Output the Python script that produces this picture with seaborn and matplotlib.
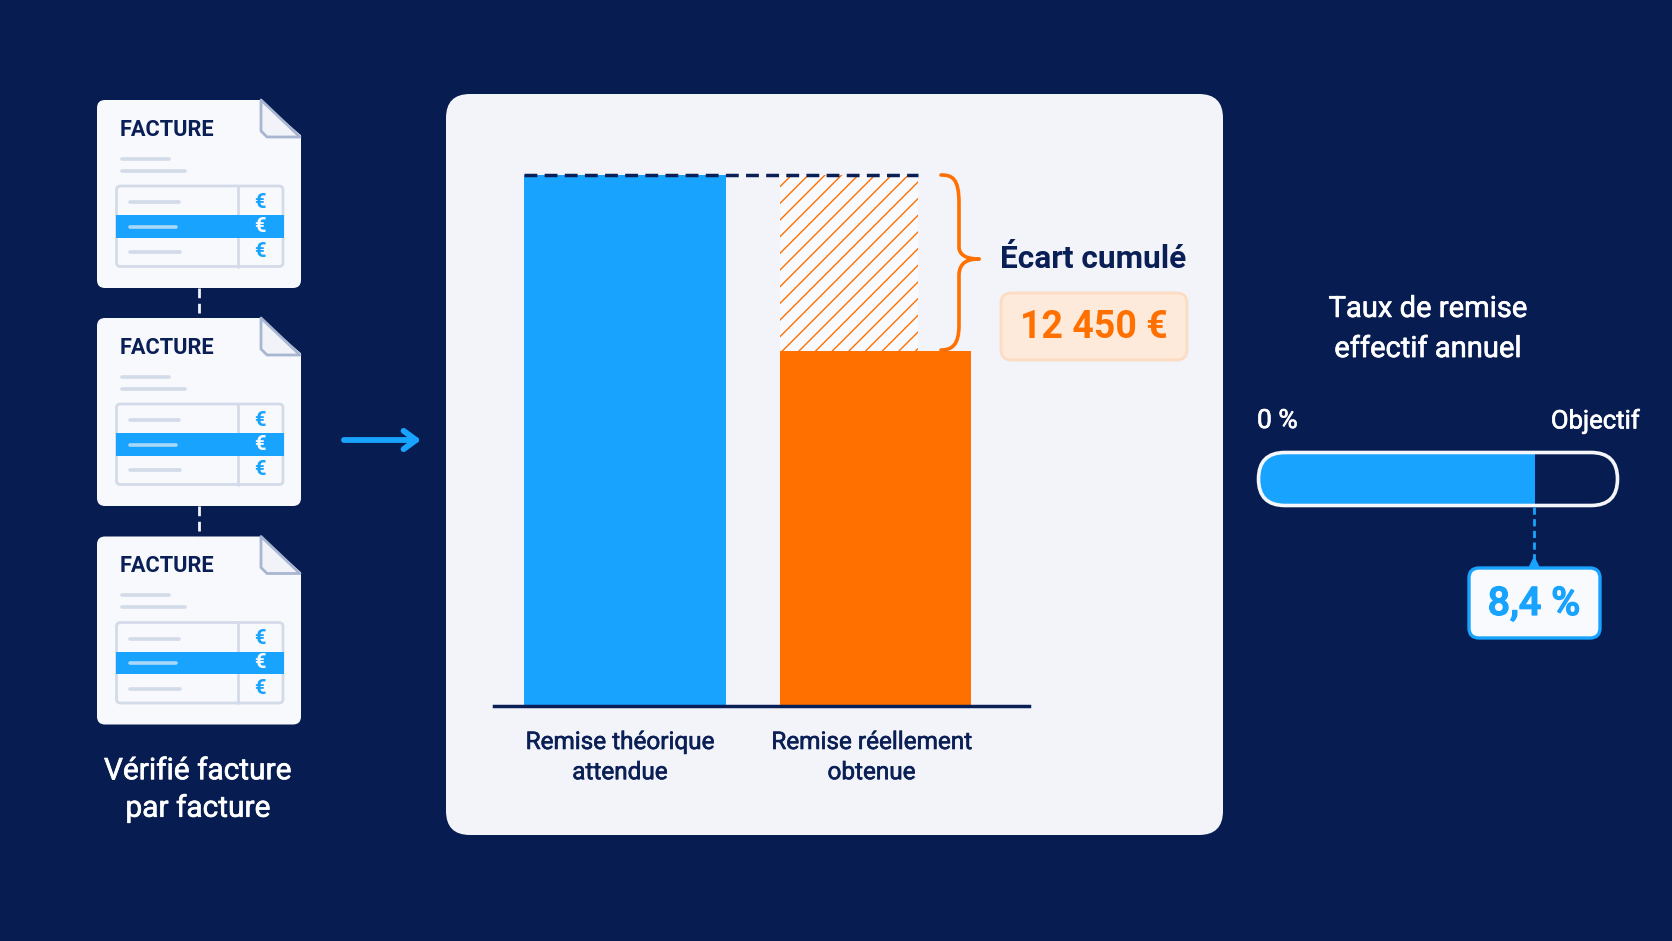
import pandas as pd
import matplotlib
matplotlib.use('Agg')
import matplotlib.pyplot as plt
import matplotlib.patheffects as pe
import seaborn as sns
from matplotlib.patches import FancyBboxPatch, Polygon, PathPatch, Rectangle
from matplotlib.path import Path

# valeurs estimees depuis l'image (seul l'ecart de 12 450 et le taux sont lisibles)
categories = ['Remise théorique\nattendue', 'Remise réellement\nobtenue']
remises = [37600, 25150]
ecart = 12450
taux = 8.4
objectif = 10.9
couleurs_barres = ['#18A3FF', '#FF7000']

FOND = '#071D52'
PANNEAU = '#F2F4F9'
BLEU = '#18A3FF'
ORANGE = '#FF7000'
MARINE = '#0A1F56'
TRAIT = '#D3DAE8'

W, H = 1672, 941

sns.set_theme(style='white')
plt.rcParams['font.family'] = ['Roboto', 'DejaVu Sans']
plt.rcParams['hatch.linewidth'] = 1.0

fig = plt.figure(figsize=(W / 100, H / 100), dpi=100, facecolor=FOND)


def axes_px(x0, y0, x1, y1):
    return fig.add_axes([x0 / W, 1 - y1 / H, (x1 - x0) / W, (y1 - y0) / H])


def epais(c, w=0.45):
    # le texte d'origine est un peu plus gras que Roboto regular
    return [pe.withStroke(linewidth=w, foreground=c)]


# calque de fond en pixels pour les elements decoratifs
bg = fig.add_axes([0, 0, 1, 1])
bg.set_xlim(0, W)
bg.set_ylim(H, 0)
bg.axis('off')


def boite(x0, y0, x1, y1, r, fc, ec='none', lw=0, z=1):
    p = FancyBboxPatch((x0, y0), x1 - x0, y1 - y0, boxstyle=f'round,pad=0,rounding_size={r}',
                       fc=fc, ec=ec, lw=lw, zorder=z)
    bg.add_patch(p)
    return p


def ligne(x0, x1, y, c=TRAIT, lw=2.6):
    bg.plot([x0, x1], [y, y], color=c, lw=lw, solid_capstyle='round', zorder=4)


def facture(dy):
    boite(97, 99 + dy, 301, 287 + dy, 8, '#F8F9FC')
    # coin plie
    bg.add_patch(Polygon([(258, 97 + dy), (303, 97 + dy), (303, 136 + dy)], fc=FOND, ec='none', zorder=2))
    bg.add_patch(Polygon([(261, 99 + dy), (300, 136 + dy), (267, 136 + dy), (261, 130 + dy)],
                         fc='#F1F3F8', ec='#A9B6D1', lw=2, joinstyle='round', zorder=3))
    bg.text(120, 129 + dy, 'FACTURE', color=MARINE, fontsize=15.7, fontweight='bold', va='center', zorder=5)
    ligne(122, 169, 157.5 + dy)
    ligne(122, 185, 169.5 + dy)
    # petit tableau
    boite(116.5, 185 + dy, 283, 265.5 + dy, 4, 'none', ec=TRAIT, lw=2, z=3)
    bg.add_patch(Rectangle((116, 214 + dy), 167.5, 22.5, fc=BLEU, ec='none', zorder=3.5))
    bg.plot([238, 238], [185 + dy, 265.5 + dy], color=TRAIT, lw=2, zorder=3)
    ligne(130, 179, 201 + dy)
    ligne(130, 176, 225.5 + dy, c='#A9D8FA')
    ligne(130, 180, 251 + dy)
    for yy, coul in [(201, BLEU), (225.5, '#F8F9FC'), (250.5, BLEU)]:
        bg.text(260, yy + dy, '€', color=coul, fontsize=14.5, fontweight='bold', ha='center', va='center', zorder=5)


decalages = [1, 219, 437.5]
for d in decalages:
    facture(d)
for y0, y1 in [(288, 319), (506, 538)]:
    bg.plot([198.5, 198.5], [y0, y1], color='#F2F4F9', lw=2, ls=(0, (3.5, 2)), zorder=2)

bg.text(198, 790, 'Vérifié facture\npar facture', color='white', fontsize=21.5, ha='center', va='center',
        linespacing=1.42, path_effects=epais('white'))
bg.annotate('', xy=(421, 440), xytext=(344, 440),
            arrowprops=dict(arrowstyle='->,head_length=0.75,head_width=0.55', color=BLEU, lw=4.2,
                            shrinkA=0, shrinkB=0))

boite(446, 94, 1223, 835, 24, PANNEAU)

# graphique principal
ax = axes_px(494, 141, 1029, 706)
ax.patch.set_alpha(0)
df = pd.DataFrame({'categorie': categories, 'remise': remises})
sns.barplot(data=df, x='categorie', y='remise', hue='categorie', palette=couleurs_barres,
            width=0.79, saturation=1, legend=False, linewidth=0, ax=ax)
ax.patches[0].set_x(-0.404)
ax.patches[0].set_width(0.808)
ax.patches[1].set_x(0.618)
ax.patches[1].set_width(0.765)
ax.bar(0.618, ecart, width=0.553, bottom=remises[1], align='edge', facecolor='#F9FAFD', edgecolor=ORANGE,
       hatch='//', linewidth=0)
ax.plot([-0.404, 1.171], [remises[0], remises[0]], color=MARINE, lw=2.5, ls=(0, (3.7, 2.1)), zorder=5, clip_on=False)
ax.set_xlim(-0.522, 1.614)
ax.set_ylim(0, 40000)
ax.set_xlabel('')
ax.set_ylabel('')
ax.set_yticks([])
ax.set_xticks([-0.02, 0.985])
ax.set_xticklabels(categories, color=MARINE, fontsize=17.5, linespacing=1.4)
for t in ax.get_xticklabels():
    t.set_path_effects(epais(MARINE))
ax.tick_params(axis='x', length=0, pad=18)
sns.despine(ax=ax, left=True)
ax.spines['bottom'].set_color(MARINE)
ax.spines['bottom'].set_linewidth(2.5)

# accolade
accolade = [(941, 175), (952, 175), (959, 178), (959, 203), (959, 222), (959, 236),
            (959, 248), (960, 256), (968, 259), (979, 259)]
accolade2 = [(979, 259), (968, 259), (960, 262), (959, 274), (959, 292), (959, 310),
             (959, 325), (959, 345), (952, 350), (941, 350)]
for v in (accolade, accolade2):
    c = [Path.MOVETO] + [Path.CURVE4] * (len(v) - 1)
    cadre_p = PathPatch(Path(v, c), fc='none', ec=ORANGE, lw=2.6, capstyle='round',
                        transform=bg.transData, zorder=6)
    fig.add_artist(cadre_p)

fig.text(1000 / W, 1 - 259 / H, 'Écart cumulé', color=MARINE, fontsize=22.8, fontweight='bold', va='center')
boite(1001, 293, 1187, 360, 10, '#FDEADB', ec='#FCDCC3', lw=2, z=6)
bg.text(1094, 328, f'{ecart:,} €'.replace(',', ' '), color=ORANGE, fontsize=27, fontweight='bold',
        ha='center', va='center', zorder=7)

# jauge de droite
bg.text(1428, 329, 'Taux de remise\neffectif annuel', color='white', fontsize=21, ha='center', va='center',
        linespacing=1.55, path_effects=epais('white'))
bg.text(1257, 421, '0 %', color='white', fontsize=19, va='center', path_effects=epais('white'))
bg.text(1640, 421, 'Objectif', color='white', fontsize=18.5, ha='right', va='center', path_effects=epais('white'))

contour = boite(1258.5, 452.5, 1617.5, 505.5, 26.5, FOND, z=1)
jauge = axes_px(1258.5, 452.5, 1617.5, 505.5)
jauge.patch.set_alpha(0)
sns.barplot(x=[taux], y=['Taux'], color=BLEU, saturation=1, width=1, orient='h', linewidth=0, ax=jauge)
jauge.set_xlim(0, objectif)
jauge.axis('off')
for b in jauge.patches:
    b.set_clip_path(contour.get_path(), contour.get_transform())
cadre = axes_px(0, 0, W, H)
cadre.set_xlim(0, W)
cadre.set_ylim(H, 0)
cadre.axis('off')
cadre.patch.set_alpha(0)
cadre.add_patch(FancyBboxPatch((1258.5, 452.5), 359, 53, boxstyle='round,pad=0,rounding_size=26.5',
                               fc='none', ec='#F4F6FA', lw=2.6))
xf = 1258.5 + 359 * taux / objectif - 1
cadre.plot([xf, xf], [507, 560], color=BLEU, lw=2, ls=(0, (2.6, 1.6)))
cadre.add_patch(Polygon([(xf - 6, 568), (xf, 556), (xf + 6, 568)], fc=BLEU, ec='none'))
cadre.add_patch(FancyBboxPatch((1469, 568), 131, 70, boxstyle='round,pad=0,rounding_size=10',
                               fc='#F8FAFD', ec=BLEU, lw=2.4))
cadre.text(1534, 604, f'{taux} %'.replace('.', ','), color=BLEU, fontsize=28.5, fontweight='medium',
           ha='center', va='center', path_effects=epais(BLEU, 0.9))

fig.savefig('out.png', dpi=100, facecolor=FOND)
